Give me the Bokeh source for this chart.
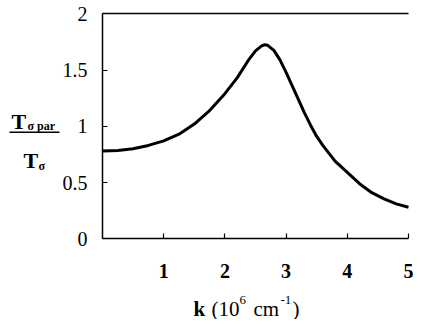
from bokeh.plotting import figure
from bokeh.models import Range1d, FixedTicker, Label, Arrow, LinearAxis
from bokeh.embed import file_html
from bokeh.resources import INLINE

# data
k_vals = [0.0, 0.25, 0.5, 0.75, 1.0, 1.25, 1.5, 1.75, 2.0, 2.2, 2.4, 2.5, 2.6, 2.65, 2.7,
          2.8, 2.9, 3.0, 3.1, 3.2, 3.3, 3.4, 3.5, 3.6, 3.8, 4.0, 4.2, 4.4, 4.6, 4.8, 5.0]
ratio = [0.78, 0.785, 0.80, 0.83, 0.87, 0.93, 1.02, 1.14, 1.29, 1.43, 1.60, 1.67, 1.715, 1.725, 1.72,
         1.675, 1.59, 1.48, 1.36, 1.24, 1.12, 1.01, 0.91, 0.83, 0.69, 0.59, 0.49, 0.41, 0.355, 0.31, 0.28]
x_ticks = [1, 2, 3, 4, 5]
x_tick_labels = ["1", "2", "3", "4", "5"]
y_ticks = [0, 0.5, 1, 1.5, 2]
y_tick_labels = ["0", "0.5", "1", "1.5", "2"]
x_lo, x_hi = 0, 5
y_lo, y_hi = 0, 2

FONT = "Liberation Serif"
W, H = 414, 319
X0, PXU = 102.0, 61.2      # pixel of k=0, pixels per unit
Y0, PYU = 238.3, 112.5     # pixel of ratio=0, pixels per unit


def px_x(X):
    return (X - X0) / PXU


def px_y(Y):
    return (Y0 - Y) / PYU


p = figure(width=W, height=H, output_backend="svg", toolbar_location=None,
           x_range=Range1d(px_x(0), px_x(W)), y_range=Range1d(px_y(H), px_y(0)),
           min_border=0)
p.background_fill_color = "white"
p.border_fill_color = "white"
p.grid.visible = False
p.outline_line_color = None

p.line(k_vals, ratio, line_color="black", line_width=3, line_join="round")

for ax in (p.xaxis[0], p.yaxis[0]):
    ax.fixed_location = 0
    ax.axis_line_color = "black"
    ax.axis_line_width = 1.5
    ax.major_tick_line_color = "black"
    ax.major_tick_line_width = 1.2
    ax.major_tick_in = 5
    ax.major_tick_out = 0
    ax.minor_tick_line_color = None
    ax.major_label_text_font = FONT
    ax.major_label_text_font_size = "20px"
    ax.major_label_text_color = "black"

p.xaxis[0].bounds = (x_lo, x_hi)
p.xaxis[0].ticker = FixedTicker(ticks=x_ticks)
p.xaxis[0].major_label_overrides = {t: l for t, l in zip(x_ticks, x_tick_labels)}
p.xaxis[0].major_label_text_font_style = "bold"
p.xaxis[0].major_label_standoff = 25
p.yaxis[0].bounds = (y_lo, y_hi)
p.yaxis[0].ticker = FixedTicker(ticks=y_ticks)
p.yaxis[0].major_label_overrides = {t: l for t, l in zip(y_ticks, y_tick_labels)}
p.yaxis[0].major_label_standoff = 15

# top border of the plot box
top = LinearAxis(fixed_location=y_hi, bounds=(x_lo, x_hi), ticker=FixedTicker(ticks=[]),
                 axis_line_color="black", axis_line_width=1.5,
                 major_tick_line_color=None, minor_tick_line_color=None,
                 major_label_text_alpha=0)
p.add_layout(top, "above")


def lab(text, X, Y, size, bold=False):
    p.add_layout(Label(x=px_x(X), y=px_y(Y), text=text, text_font=FONT,
                       text_font_size=size, text_font_style="bold" if bold else "normal",
                       text_color="black", text_baseline="alphabetic", text_align="left"))


# x axis title: k (10^6 cm^-1)
lab("k", 193, 308, "21px", bold=True)
lab("(10", 211, 308, "21px")
lab("6", 239, 299, "13px")
lab("cm", 253, 308, "21px")
lab("-1", 280, 299, "13px")
lab(")", 292, 308, "21px")

# y axis title: fraction T_sigma par / T_sigma
lab("T", 11, 121, "22px", bold=True)
lab("\u03c3 par", 27, 125, "12px", bold=True)
p.add_layout(Arrow(end=None, x_start=px_x(9), y_start=px_y(131.7), x_end=px_x(59),
                   y_end=px_y(131.7), line_color="black", line_width=1.5))
lab("T", 23, 160, "22px", bold=True)
lab("\u03c3", 38, 165, "12px", bold=True)

open("out.html", "w").write(file_html(p, INLINE))
